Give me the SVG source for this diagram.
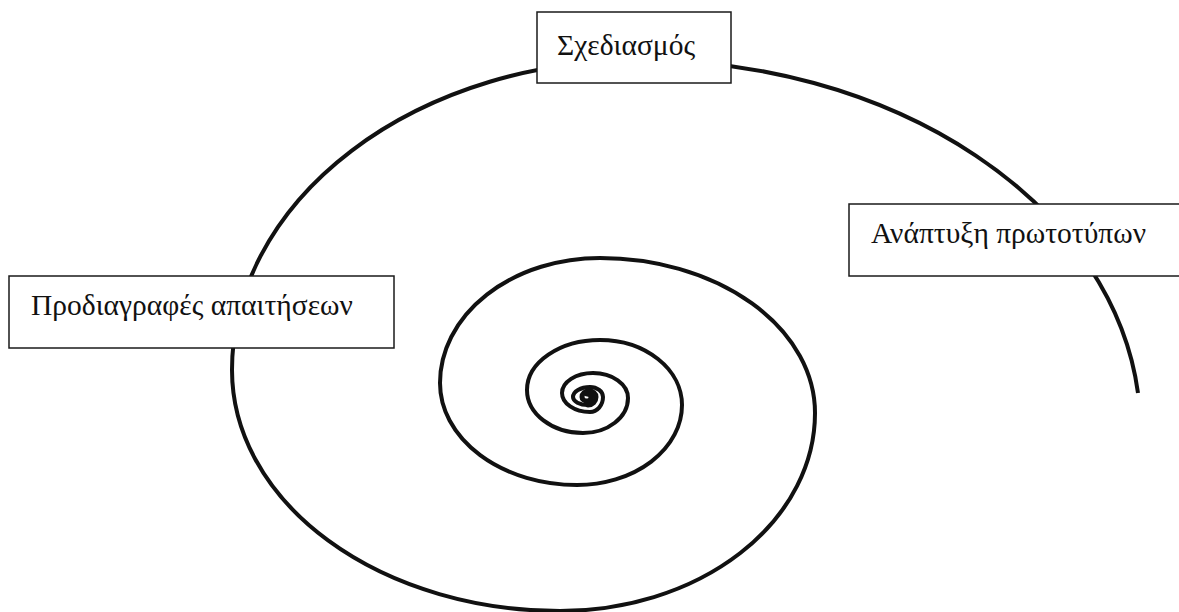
<svg xmlns="http://www.w3.org/2000/svg" width="1179" height="612" viewBox="0 0 1179 612">
<style>
.spiral{fill:none;stroke:#111;stroke-width:4;stroke-linecap:butt;stroke-linejoin:round}
.core{fill:none;stroke:#111;stroke-width:5;stroke-linecap:round}
.box{fill:#fff;stroke:#1a1a1a;stroke-width:1.5}
.lbl{font-family:"Liberation Serif","Times New Roman",serif;font-size:29.5px;fill:#111}
</style>
<rect width="1179" height="612" fill="#fff"/>
<g id="connectors">
<path class="core" d="M587 394 A4 3 0 0 1 591 397 A4 4 0 0 1 587 401 A5 4 0 0 1 582 397 A7 6 0 0 1 589 391 A7 6 0 0 1 596 397 A8 8 0 0 1 588 405"/>
<path class="spiral" d="M588 405 A15 8 0 0 1 573 397 A17 10 0 0 1 590 387 A13 10 0 0 1 603 397 A13 15 0 0 1 590 412 A28 19 0 0 1 562 393 A31 20 0 0 1 593 373 A35 25 0 0 1 628 398 A45 35 0 0 1 583 433 A56 43 0 0 1 527 390 A73 50 0 0 1 600 340 A82 65 0 0 1 682 405 A105 80 0 0 1 577 485 A137 102 0 0 1 440 383 A160 125 0 0 1 600 258 A215 155 0 0 1 815 413 A255 198 0 0 1 560 611 A328 241 0 0 1 232 370 A408 310 0 0 1 640 60 A500.5 370 0 0 1 1138 393"/>
</g>
<g id="node-design">
<rect class="box" x="537" y="12" width="194" height="71"/>
<text class="lbl" x="557" y="55">Σχεδιασμός</text>
</g>
<g id="node-prototype">
<rect class="box" x="849" y="204" width="332" height="72"/>
<text class="lbl" x="871" y="243">Ανάπτυξη πρωτοτύπων</text>
</g>
<g id="node-requirements">
<rect class="box" x="9" y="276" width="385" height="72"/>
<text class="lbl" x="31" y="315">Προδιαγραφές απαιτήσεων</text>
</g>
</svg>
